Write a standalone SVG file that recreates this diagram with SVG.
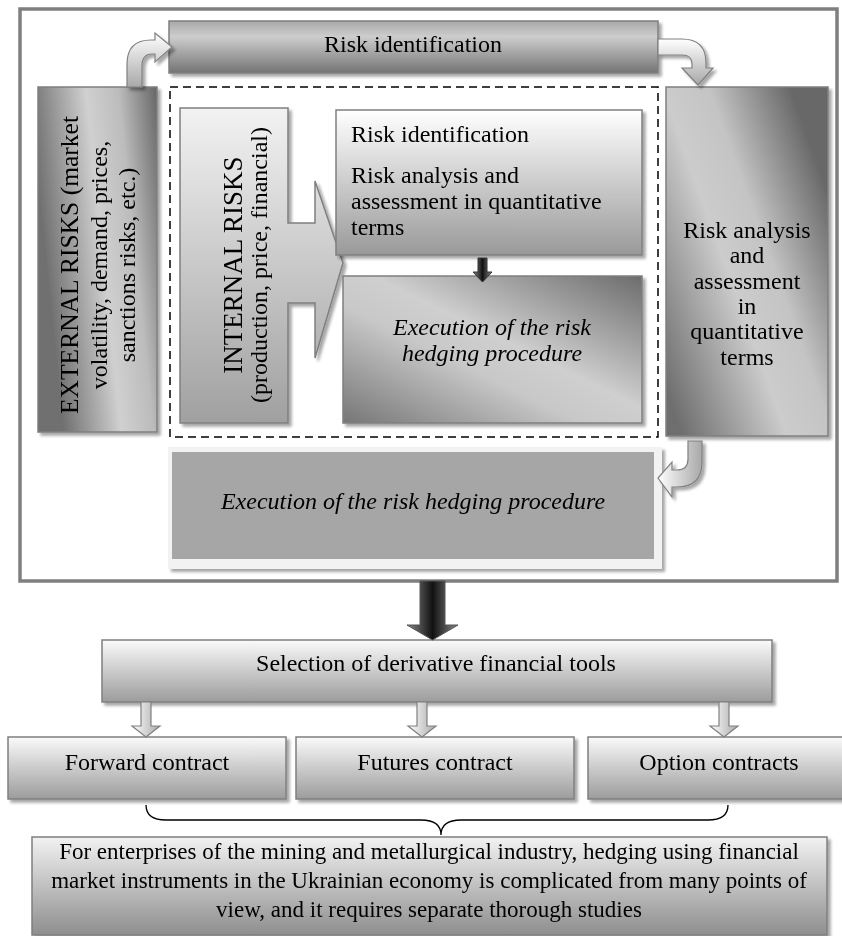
<svg xmlns="http://www.w3.org/2000/svg" width="842" height="936" viewBox="0 0 842 936">
<defs>
<style>
.t{font-family:"Liberation Serif","Times New Roman",serif;font-size:24px;fill:#000}
.p{font-size:23px}
.it{font-style:italic}
.m{text-anchor:middle}
.bx{stroke:#7f7f7f;stroke-width:1.5}
.ar{stroke:#808080;stroke-width:1.2}
</style>
<filter id="sh" x="-10%" y="-10%" width="130%" height="130%">
<feGaussianBlur in="SourceAlpha" stdDeviation="1.5"/>
<feOffset dx="3" dy="3" result="o"/>
<feComponentTransfer><feFuncA type="linear" slope="0.35"/></feComponentTransfer>
<feMerge><feMergeNode/><feMergeNode in="SourceGraphic"/></feMerge>
</filter>
<linearGradient id="gTop" x1="0" y1="0" x2="0" y2="1"><stop offset="0" stop-color="#a8a8a8"/><stop offset="0.3" stop-color="#cdcdcd"/><stop offset="1" stop-color="#747474"/></linearGradient>
<linearGradient id="gExt" x1="0" y1="0.3" x2="1" y2="0"><stop offset="0" stop-color="#6f6f6f"/><stop offset="0.45" stop-color="#d0d0d0"/><stop offset="0.7" stop-color="#bcbcbc"/><stop offset="1" stop-color="#666"/></linearGradient>
<linearGradient id="gRight" x1="0.1" y1="1" x2="1" y2="0.3"><stop offset="0" stop-color="#6e6e6e"/><stop offset="0.45" stop-color="#cccccc"/><stop offset="0.65" stop-color="#c4c4c4"/><stop offset="1" stop-color="#686868"/></linearGradient>
<linearGradient id="gInner" x1="0" y1="0" x2="0" y2="1"><stop offset="0" stop-color="#ffffff"/><stop offset="1" stop-color="#999"/></linearGradient>
<linearGradient id="gInt" x1="0" y1="0" x2="0" y2="1"><stop offset="0" stop-color="#f2f2f2"/><stop offset="1" stop-color="#a0a0a0"/></linearGradient>
<linearGradient id="gExec" x1="1" y1="0" x2="0" y2="1"><stop offset="0" stop-color="#6c6c6c"/><stop offset="0.45" stop-color="#cfcfcf"/><stop offset="0.6" stop-color="#c8c8c8"/><stop offset="1" stop-color="#767676"/></linearGradient>
<linearGradient id="gBox" x1="0" y1="0" x2="0" y2="1"><stop offset="0" stop-color="#fafafa"/><stop offset="1" stop-color="#9c9c9c"/></linearGradient>
<linearGradient id="gPar" x1="0" y1="0" x2="0" y2="1"><stop offset="0" stop-color="#f2f2f2"/><stop offset="1" stop-color="#8e8e8e"/></linearGradient>
<linearGradient id="gBlk" x1="0" y1="0" x2="1" y2="0"><stop offset="0" stop-color="#8a8a8a"/><stop offset="0.5" stop-color="#111"/><stop offset="1" stop-color="#8a8a8a"/></linearGradient>
<linearGradient id="gLt" x1="0" y1="0" x2="0" y2="1"><stop offset="0" stop-color="#ffffff"/><stop offset="1" stop-color="#a8a8a8"/></linearGradient>
<linearGradient id="gLtH" x1="0" y1="0" x2="1" y2="0"><stop offset="0" stop-color="#ffffff"/><stop offset="1" stop-color="#a8a8a8"/></linearGradient>
</defs>

<rect id="frame" x="20" y="9" width="817" height="572" fill="none" stroke="#7f7f7f" stroke-width="3.5"/>
<rect id="dashed" x="170" y="87" width="488" height="350" fill="none" stroke="#000" stroke-width="1.5" stroke-dasharray="8,5"/>

<g id="top-risk-identification" filter="url(#sh)">
<rect x="169" y="21" width="489" height="52" fill="url(#gTop)" class="bx"/>
<text class="t m" x="413" y="52">Risk identification</text>
</g>

<g id="external-risks" filter="url(#sh)">
<rect x="38" y="87" width="119" height="345" fill="url(#gExt)" class="bx"/>
<text class="t m" transform="translate(78,265) rotate(-90)" style="font-size:25.5px">EXTERNAL RISKS (market</text>
<text class="t m" transform="translate(107,265) rotate(-90)">volatility, demand, prices,</text>
<text class="t m" transform="translate(135,265) rotate(-90)">sanctions risks, etc.)</text>
</g>

<g id="right-risk-analysis" filter="url(#sh)">
<rect x="666" y="87" width="162" height="349" fill="url(#gRight)" class="bx"/>
<text class="t m" x="747" y="238">Risk analysis</text>
<text class="t m" x="747" y="263">and</text>
<text class="t m" x="747" y="289">assessment</text>
<text class="t m" x="747" y="314">in</text>
<text class="t m" x="747" y="339">quantitative</text>
<text class="t m" x="747" y="365">terms</text>
</g>

<g id="internal-risks" filter="url(#sh)">
<path d="M180,108 L288,108 L288,223 L315,223 L315,181 L343,263 L315,358 L315,303 L288,303 L288,423 L180,423 Z" fill="url(#gInt)" class="bx"/>
<text class="t m" transform="translate(242,265) rotate(-90)" style="font-size:27px">INTERNAL RISKS</text>
<text class="t m" transform="translate(267,265) rotate(-90)">(production, price, financial)</text>
</g>

<g id="inner-risk-identification" filter="url(#sh)">
<rect x="336" y="110" width="306" height="145" fill="url(#gInner)" class="bx"/>
<text class="t" x="351" y="142">Risk identification</text>
<text class="t" x="351" y="183">Risk analysis and</text>
<text class="t" x="351" y="209">assessment in quantitative</text>
<text class="t" x="351" y="235">terms</text>
</g>

<g id="inner-execution" filter="url(#sh)">
<rect x="343" y="276" width="299" height="147" fill="url(#gExec)" class="bx"/>
<text class="t it m" x="492" y="335">Execution of the risk</text>
<text class="t it m" x="492" y="361">hedging procedure</text>
</g>

<g id="bottom-execution" filter="url(#sh)">
<rect x="168" y="447" width="494" height="122" fill="#f2f2f2"/>
<rect x="172" y="452" width="482" height="107" fill="#a6a6a6"/>
<text class="t it m" x="413" y="509">Execution of the risk hedging procedure</text>
</g>

<g id="selection" filter="url(#sh)">
<rect x="102" y="640" width="670" height="62" fill="url(#gBox)" class="bx"/>
<text class="t m" x="436" y="671">Selection of derivative financial tools</text>
</g>

<g id="forward" filter="url(#sh)">
<rect x="8" y="737" width="278" height="62" fill="url(#gBox)" class="bx"/>
<text class="t m" x="147" y="770">Forward contract</text>
</g>
<g id="futures" filter="url(#sh)">
<rect x="296" y="737" width="278" height="62" fill="url(#gBox)" class="bx"/>
<text class="t m" x="435" y="770">Futures contract</text>
</g>
<g id="option" filter="url(#sh)">
<rect x="588" y="737" width="262" height="62" fill="url(#gBox)" class="bx"/>
<text class="t m" x="719" y="770">Option contracts</text>
</g>

<g id="conclusion" filter="url(#sh)">
<rect x="32" y="837" width="795" height="98" fill="url(#gPar)" class="bx"/>
<text class="t p m" x="429" y="859">For enterprises of the mining and metallurgical industry, hedging using financial</text>
<text class="t p m" x="429" y="888">market instruments in the Ukrainian economy is complicated from many points of</text>
<text class="t p m" x="429" y="917">view, and it requires separate thorough studies</text>
</g>

<g id="connectors">
<path d="M127,87 L127,64 Q127,40 151,40 L155,40 L155,33 L172,47 L155,62 L155,54 L152,54 Q142,54 142,66 L142,87 Z" fill="url(#gLt)" class="ar" filter="url(#sh)"/>
<path d="M658,39 L682,39 Q706,39 706,63 L706,68 L713,68 L698,85 L682,68 L692,68 L692,64 Q692,55 682,55 L658,55 Z" fill="url(#gLt)" class="ar" filter="url(#sh)"/>
<path d="M688,441 L702,441 L702,462 Q702,487 677,487 L672,487 L672,497 L658,478 L672,462 L672,470 L677,470 Q688,470 688,459 Z" fill="url(#gLtH)" class="ar" filter="url(#sh)"/>
<path d="M478,258 L487,258 L487,272 L492,272 L482.5,282 L473,272 L478,272 Z" fill="url(#gBlk)" stroke="#333" stroke-width="1"/>
<path d="M420,581 L445,581 L445,625 L458,625 L432.5,640 L407,625 L420,625 Z" fill="url(#gBlk)" stroke="#555" stroke-width="1"/>
<path d="M141,702 L151,702 L151,726 L160,726 L146,737 L132,726 L141,726 Z" fill="url(#gLtH)" class="ar"/>
<path d="M417,702 L427,702 L427,726 L436,726 L422,737 L408,726 L417,726 Z" fill="url(#gLtH)" class="ar"/>
<path d="M719,702 L729,702 L729,726 L738,726 L724,737 L710,726 L719,726 Z" fill="url(#gLtH)" class="ar"/>
<path d="M146,805 Q146,820 166,820 L421,820 Q441,820 441,835 Q441,820 461,820 L708,820 Q728,820 728,805" fill="none" stroke="#000" stroke-width="1.3"/>
</g>
</svg>
